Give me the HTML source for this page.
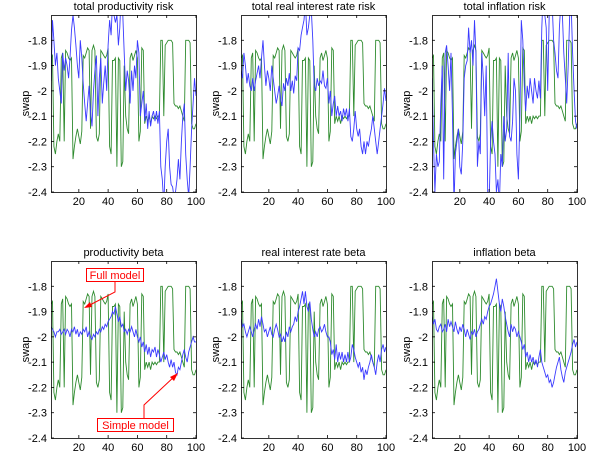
<!DOCTYPE html>
<html><head><meta charset="utf-8"><style>
body{margin:0;background:#fff;width:600px;height:467px;overflow:hidden}
svg{font-family:"Liberation Sans",sans-serif}
</style></head><body>
<svg id="c" width="600" height="467"></svg>
<script>
const xTicks=[20,40,60,80,100];
const yTicks=[-1.8,-1.9,-2,-2.1,-2.2,-2.3,-2.4];
const yTickLabels=["-1.8","-1.9","-2","-2.1","-2.2","-2.3","-2.4"];
const titles=["total productivity risk","total real interest rate risk","total inflation risk","productivity beta","real interest rate beta","inflation beta"];
const greenSeries=[-1.87,-1.86,-2.22,-2.25,-2.2,-2.17,-2.2,-1.87,-1.85,-2.2,-1.84,-1.85,-1.87,-1.88,-1.87,-2.27,-2.22,-2.18,-2.15,-2.18,-2.21,-2.16,-1.86,-1.87,-1.85,-1.83,-1.84,-2.15,-1.84,-1.82,-1.84,-2.18,-2.2,-2.17,-1.84,-1.85,-1.86,-1.87,-1.86,-1.83,-2.22,-2.25,-1.88,-1.88,-1.87,-2.3,-1.87,-1.88,-2.3,-2.28,-1.9,-2.1,-2.15,-2.17,-1.87,-1.85,-1.88,-1.86,-1.84,-1.87,-2.2,-2.16,-1.83,-1.84,-2.13,-2.1,-2.12,-2.1,-2.13,-2.1,-2.11,-2.1,-2.11,-2.1,-2.1,-1.8,-1.8,-2.1,-1.82,-1.81,-1.8,-1.8,-1.8,-1.81,-2.05,-2.06,-2.06,-2.07,-2.06,-2.08,-2.1,-2.12,-1.8,-1.8,-1.8,-1.81,-2.13,-2.15,-2.15,-2.13];
const blueProdRisk=[-1.96,-1.72,-1.8,-1.9,-1.85,-1.95,-2.0,-2.05,-1.85,-1.92,-1.87,-1.9,-1.95,-1.87,-1.76,-1.7,-1.75,-1.82,-1.9,-1.95,-1.8,-1.87,-1.97,-2.05,-2.12,-2.05,-1.98,-2.08,-2.14,-2.0,-1.92,-1.86,-2.1,-1.95,-1.87,-2.05,-1.97,-1.9,-2.0,-1.82,-1.72,-1.78,-1.65,-1.7,-1.73,-1.7,-1.82,-1.75,-1.6,-1.7,-1.85,-2.0,-1.92,-1.96,-2.05,-1.92,-2.0,-1.9,-1.95,-1.8,-1.85,-2.1,-2.05,-2.0,-2.12,-2.05,-2.15,-2.08,-2.14,-2.1,-2.08,-2.12,-2.08,-2.13,-2.08,-2.3,-2.35,-2.45,-2.3,-2.2,-2.15,-2.3,-2.37,-2.38,-2.42,-2.4,-2.35,-2.27,-2.35,-2.2,-2.1,-2.05,-2.25,-2.35,-2.42,-2.3,-2.15,-2.05,-1.95,-2.02];
const blueRateRisk=[-1.92,-1.95,-1.85,-1.9,-1.97,-1.93,-1.98,-2.0,-1.95,-2.0,-1.96,-1.93,-1.9,-1.95,-1.87,-1.8,-1.9,-1.98,-1.92,-1.95,-2.0,-1.9,-1.95,-2.0,-2.05,-2.02,-1.98,-2.03,-2.06,-1.97,-2.0,-1.95,-1.98,-1.93,-2.0,-1.96,-2.01,-1.94,-1.96,-1.83,-1.84,-1.78,-1.75,-1.72,-1.65,-1.78,-1.75,-1.7,-1.68,-1.8,-1.98,-2.0,-1.95,-1.98,-1.96,-1.97,-1.92,-1.98,-1.99,-1.95,-2.05,-2.0,-2.1,-2.05,-2.02,-2.1,-2.06,-2.1,-2.08,-2.12,-2.07,-2.1,-2.07,-2.12,-2.07,-2.18,-2.2,-2.15,-2.08,-2.15,-2.18,-2.15,-2.22,-2.25,-2.2,-2.25,-2.2,-2.22,-2.18,-2.15,-2.1,-2.15,-2.2,-2.25,-2.2,-2.15,-2.1,-2.05,-1.99,-2.04];
const blueInflRisk=[-1.95,-2.2,-2.4,-2.25,-2.3,-2.28,-2.05,-1.9,-2.35,-1.85,-1.82,-1.9,-2.0,-1.85,-2.1,-2.45,-2.25,-2.2,-2.15,-2.3,-2.33,-2.2,-1.95,-1.9,-1.88,-1.75,-1.85,-1.8,-1.9,-1.72,-1.85,-2.3,-2.2,-2.25,-1.85,-1.95,-2.1,-1.9,-2.4,-2.45,-2.2,-2.12,-2.2,-2.25,-2.4,-2.35,-2.45,-2.25,-2.3,-2.1,-2.2,-2.15,-1.85,-2.18,-2.2,-2.12,-1.95,-2.0,-2.25,-2.35,-2.1,-1.72,-1.8,-1.98,-2.08,-1.98,-2.03,-1.95,-2.0,-2.05,-1.95,-2.0,-2.03,-1.96,-2.03,-1.75,-1.6,-1.7,-1.75,-2.0,-1.7,-1.6,-1.65,-1.8,-1.85,-1.92,-1.95,-1.75,-1.65,-1.7,-1.85,-1.95,-2.05,-1.9,-1.7,-1.65,-1.85,-2.0,-2.12,-2.15];
const blueProdBeta=[-1.96,-1.97,-1.98,-2.0,-1.98,-1.98,-1.97,-1.99,-1.98,-1.97,-1.99,-1.97,-1.98,-2.0,-1.97,-1.98,-1.96,-1.99,-1.97,-2.0,-1.98,-1.99,-1.97,-1.98,-1.96,-2.0,-1.98,-2.0,-2.01,-1.99,-2.0,-1.98,-1.99,-1.97,-1.98,-1.96,-1.97,-1.95,-1.96,-1.94,-1.93,-1.92,-1.9,-1.91,-1.88,-1.91,-1.94,-1.92,-1.96,-1.95,-1.98,-1.97,-1.99,-1.97,-1.98,-1.96,-1.98,-2.0,-1.97,-2.0,-2.02,-2.0,-2.04,-2.02,-2.06,-2.03,-2.07,-2.04,-2.08,-2.05,-2.06,-2.04,-2.08,-2.05,-2.07,-2.1,-2.08,-2.06,-2.09,-2.07,-2.1,-2.12,-2.09,-2.12,-2.1,-2.14,-2.15,-2.12,-2.13,-2.1,-2.07,-2.05,-2.08,-2.1,-2.06,-2.04,-2.02,-2.0,-2.02,-2.02];
const blueRateBeta=[-1.93,-1.96,-1.95,-1.98,-2.0,-1.98,-1.96,-1.98,-2.0,-1.97,-1.95,-1.97,-1.93,-1.96,-1.92,-1.95,-1.98,-1.97,-2.0,-1.98,-1.96,-1.99,-2.0,-1.97,-1.95,-1.97,-2.0,-1.99,-2.02,-2.0,-2.02,-1.98,-2.0,-1.96,-1.98,-1.96,-1.95,-1.92,-1.94,-1.9,-1.88,-1.85,-1.82,-1.87,-1.82,-1.88,-1.9,-1.86,-1.93,-1.97,-2.0,-1.98,-2.0,-1.97,-1.96,-1.98,-1.97,-1.95,-1.98,-2.0,-2.0,-2.02,-2.07,-2.05,-2.09,-2.03,-2.1,-2.06,-2.09,-2.06,-2.1,-2.07,-2.1,-2.06,-2.1,-2.08,-2.03,-2.05,-2.08,-2.1,-2.12,-2.1,-2.14,-2.12,-2.17,-2.13,-2.15,-2.12,-2.1,-2.07,-2.1,-2.12,-2.15,-2.1,-2.07,-2.1,-2.05,-2.03,-2.06,-2.04];
const blueInflBeta=[-1.92,-1.95,-1.93,-1.97,-1.98,-1.96,-1.95,-1.98,-1.97,-1.95,-1.98,-1.93,-1.96,-1.94,-1.96,-1.98,-1.94,-1.97,-1.99,-1.96,-1.98,-1.95,-1.97,-2.0,-1.97,-1.99,-2.01,-1.98,-1.99,-1.97,-2.0,-1.98,-1.97,-1.95,-1.93,-1.95,-1.92,-1.93,-1.9,-1.88,-1.87,-1.85,-1.83,-1.8,-1.77,-1.82,-1.87,-1.9,-1.85,-1.88,-1.92,-1.95,-1.98,-2.0,-1.95,-1.98,-1.96,-1.97,-2.0,-1.98,-2.0,-2.02,-2.05,-2.03,-2.08,-2.06,-2.1,-2.07,-2.1,-2.08,-2.11,-2.09,-2.12,-2.08,-2.05,-2.1,-2.12,-2.14,-2.16,-2.15,-2.18,-2.17,-2.2,-2.18,-2.15,-2.12,-2.1,-2.08,-2.13,-2.16,-2.18,-2.14,-2.12,-2.1,-2.08,-2.06,-2.03,-2.01,-2.04,-2.02];
const blueSets=[blueProdRisk,blueRateRisk,blueInflRisk,blueProdBeta,blueRateBeta,blueInflBeta];
const ns="http://www.w3.org/2000/svg";
const svg=document.getElementById('c');
const colsL=[51,241,432], W=145, rowsT=[15,261], H=177;
function mk(t,a,p){const e=document.createElementNS(ns,t);for(const k in a)e.setAttribute(k,a[k]);(p||svg).appendChild(e);return e;}
for(let p=0;p<6;p++){
  const L=colsL[p%3], T=rowsT[Math.floor(p/3)];
  const sx=v=>L+(v-1)/99*W, sy=v=>T+(-1.7-v)/0.7*H;
  const g=mk('g',{});
  
  
  mk('rect',{x:L,y:T,width:W,height:H,fill:'#fff',stroke:'none'},g);
  const clipId='cl'+p;
  const cp=mk('clipPath',{id:clipId},g);mk('rect',{x:L,y:T,width:W,height:H},cp);
  const sets=[[greenSeries,'#2e8b2e','green-series'],[blueSets[p],'#3a3aff','blue-series']];
  for(const [data,col,nm] of sets){
    const pts=data.map((v,i)=>sx(i+1).toFixed(1)+','+sy(v).toFixed(1)).join(' ');
    const pl=mk('polyline',{points:pts,fill:'none',stroke:col,'stroke-width':0.9,'clip-path':'url(#'+clipId+')'},g);
    
    
  }
  const fr=mk('rect',{x:L+0.5,y:T+0.5,width:W,height:H,fill:'none',stroke:'#000','stroke-width':0.8},g);
  
  
  xTicks.forEach(v=>{const x=sx(v);mk('line',{x1:x,y1:T+H,x2:x,y2:T+H-3,stroke:'#000','stroke-width':0.8},g);mk('line',{x1:x,y1:T,x2:x,y2:T+3,stroke:'#000','stroke-width':0.8},g);
    const t=mk('text',{x:x,y:T+H+13,'font-size':11,'text-anchor':'middle'},g);t.textContent=v;
    
    });
  yTicks.forEach((v,i)=>{const y=sy(v);mk('line',{x1:L,y1:y,x2:L+3,y2:y,stroke:'#000','stroke-width':0.8},g);mk('line',{x1:L+W,y1:y,x2:L+W-3,y2:y,stroke:'#000','stroke-width':0.8},g);
    const t=mk('text',{x:L-4,y:y+4,'font-size':11,'text-anchor':'end'},g);t.textContent=yTickLabels[i];
    
    });
  const tt=mk('text',{x:L+W/2,y:T-5,'font-size':11,'text-anchor':'middle'},g);tt.textContent=titles[p];
  
  
  const yl=mk('text',{x:0,y:0,'font-size':11,'text-anchor':'middle',transform:'translate('+(L-22)+','+(T+H/2)+') rotate(-90)'},g);yl.textContent='swap';
  
  
}
// annotations
const a=mk('g',{});


mk('polyline',{points:'115,282 115,292 86,307',fill:'none',stroke:'#f00','stroke-width':1},a);
mk('polygon',{points:'84,308 90,302 92,307',fill:'#f00'},a);
mk('polyline',{points:'144,418 144,405 176,375',fill:'none',stroke:'#f00','stroke-width':1},a);
mk('polygon',{points:'178,373 170,377 174,381',fill:'#f00'},a);
mk('rect',{x:86.5,y:268.5,width:57,height:13,fill:'#fff',stroke:'#f00','stroke-width':1},a);
const f=mk('text',{x:115,y:279,'font-size':11,fill:'#f00','text-anchor':'middle'},a);f.textContent='Full model';


mk('rect',{x:97.5,y:418.5,width:76,height:13,fill:'#fff',stroke:'#f00','stroke-width':1},a);
const s=mk('text',{x:135.5,y:429,'font-size':11,fill:'#f00','text-anchor':'middle'},a);s.textContent='Simple model';


</script>
</body></html>
